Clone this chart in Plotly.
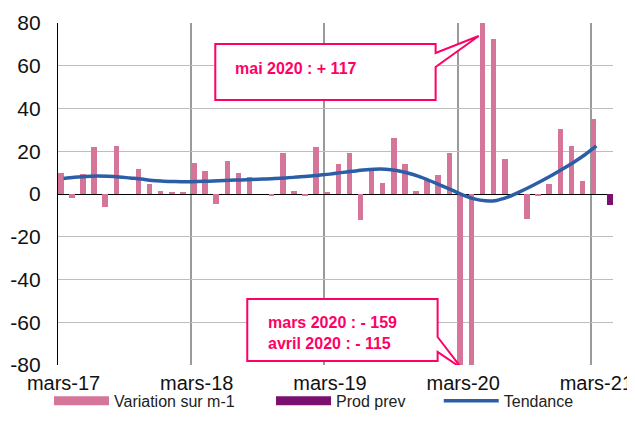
import plotly.graph_objects as go

# ---- data ----
variation = [10, -2, 9.5, 22, -6, 22.5, 0, 11.5, 4.5, 1.4, 0.9, 0.8,
             14.7, 10.7, -4.6, 15.5, 9.7, 8, 0, -0.5, 19, 1.5, -1, 22,
             0.9, 14.2, 19.3, -12, 10.7, 5.3, 26, 14.2, 1.4, 6.5, 8.7, 19.3,
             -159, -115, 117, 72.5, 16.5, 0, -11.6, -0.5, 4.7, 30.4, 22.6, 6.2,
             35.1]
prod_prev = [-5.3]
tendance = [7.3, 7.8, 8.2, 8.4, 8.3, 8.0, 7.5, 7.0, 6.3, 6.0, 5.8, 5.7,
            5.8, 6.0, 6.2, 6.4, 6.6, 6.8, 7.0, 7.2, 7.5, 7.9, 8.3, 8.8,
            9.3, 10.0, 10.6, 11.2, 11.6, 11.6, 11.0, 9.8, 8.2, 6.2, 4.0, 1.8,
            -0.5, -2.3, -3.2, -3.0, -1.5, 0.8, 3.3, 6.0, 8.8, 11.8, 15.0, 18.5,
            22.5]
months_var = list(range(len(variation)))
months_prev = [len(variation) + k for k in range(len(prod_prev))]
tick_labels = ["mars-17", "mars-18", "mars-19", "mars-20", "mars-21"]
tick_months = [0, 12, 24, 36, 48]
y_ticks = [-80, -60, -40, -20, 0, 20, 40, 60, 80]
y_tick_labels = ["-80", "-60", "-40", "-20", "0", "20", "40", "60", "80"]

PINK = "#D6759A"
PURPLE = "#7A1070"
BLUE = "#2B5EA7"
CALLOUT = "#FF0066"
FONT = "Liberation Sans, Arial, sans-serif"

fig = go.Figure()
fig.add_trace(go.Bar(x=months_var, y=variation, marker_color=PINK,
                     marker_line_width=0, name="Variation sur m-1",
                     width=0.5, offset=-0.5, showlegend=False))
fig.add_trace(go.Bar(x=months_prev, y=prod_prev, marker_color=PURPLE,
                     marker_line_width=0, name="Prod prev",
                     width=0.5, offset=0.0, showlegend=False))
fig.add_trace(go.Scatter(x=months_var, y=tendance, mode="lines",
                         line=dict(color=BLUE, width=3.5, shape="spline"),
                         name="Tendance", legend="legend3"))
# legend proxies (wide swatches)
fig.add_trace(go.Scatter(x=[None], y=[None], mode="lines",
                         line=dict(color=PINK, width=9),
                         name="Variation sur m-1", legend="legend"))
fig.add_trace(go.Scatter(x=[None], y=[None], mode="lines",
                         line=dict(color=PURPLE, width=9),
                         name="Prod prev", legend="legend2"))

# callouts (speech bubbles)
xl, xr, yt, yb = 13.67, 33.52, 70.2, 44.0
fig.add_shape(type="path", xref="x", yref="y", layer="above",
              path=f"M{xl},{yt} L{xr},{yt} L{xr},66.0 L37.4,73.9 L{xr},59.4 "
                   f"L{xr},{yb} L{xl},{yb} Z",
              line=dict(color=CALLOUT, width=2), fillcolor="white")
xl2, xr2, yt2, yb2 = 16.55, 33.7, -49.1, -78.1
fig.add_shape(type="path", xref="x", yref="y", layer="above",
              path=f"M{xl2},{yt2} L{xr2},{yt2} L{xr2},-66.9 L35.86,-81.5 L{xr2},-73.9 "
                   f"L{xr2},{yb2} L{xl2},{yb2} Z",
              line=dict(color=CALLOUT, width=2), fillcolor="white")
fig.add_annotation(x=15.3, y=58.9, xref="x", yref="y", xanchor="left",
                   yanchor="middle", showarrow=False,
                   text="<b>mai 2020 : + 117</b>",
                   font=dict(family=FONT, size=16, color=CALLOUT))
fig.add_annotation(x=18.2, y=-64.8, xref="x", yref="y", xanchor="left",
                   yanchor="middle", showarrow=False, align="left",
                   text="<b>mars 2020 : - 159<br>avril 2020 : - 115</b>",
                   font=dict(family=FONT, size=16, color=CALLOUT))

legend_common = dict(orientation="h", yanchor="middle", y=0.080,
                     xanchor="left", xref="container", yref="container",
                     bgcolor="rgba(0,0,0,0)",
                     font=dict(family=FONT, size=16, color="#222"),
                     itemwidth=55)
# the page body adds an 8px offset, so the figure is 627x427
fig.update_layout(
    width=627, height=427,
    margin=dict(l=50, r=22, t=15, b=70),
    plot_bgcolor="white", paper_bgcolor="white",
    barmode="overlay", bargap=0,
    font=dict(family=FONT, size=20, color="#111"),
    legend=dict(x=0.0654, **legend_common),
    legend2=dict(x=0.4195, **legend_common),
    legend3=dict(x=0.687, **legend_common),
)
fig.update_xaxes(range=[-0.5, len(variation) + 0.5], automargin=False,
                 tickmode="array", tickvals=tick_months, ticktext=tick_labels,
                 showgrid=False, ticks="", showline=False, zeroline=False,
                 ticklabelstandoff=4,
                 tickfont=dict(family=FONT, size=20, color="#111"),
                 minor=dict(tickmode="array",
                            tickvals=[m - 0.5 for m in tick_months],
                            showgrid=True, gridcolor="#9A9A9A", gridwidth=2,
                            ticks=""))
fig.update_yaxes(range=[-80, 80], tickmode="array", tickvals=y_ticks,
                 ticktext=y_tick_labels, automargin=False,
                 showgrid=True, gridcolor="#BDBDBD", gridwidth=1.3,
                 zeroline=True, zerolinecolor="#000", zerolinewidth=1.3,
                 showline=True, linecolor="#000", linewidth=1.3,
                 ticks="", ticklabelstandoff=12,
                 tickfont=dict(family=FONT, size=21, color="#111"))

fig.write_html("out.html")
